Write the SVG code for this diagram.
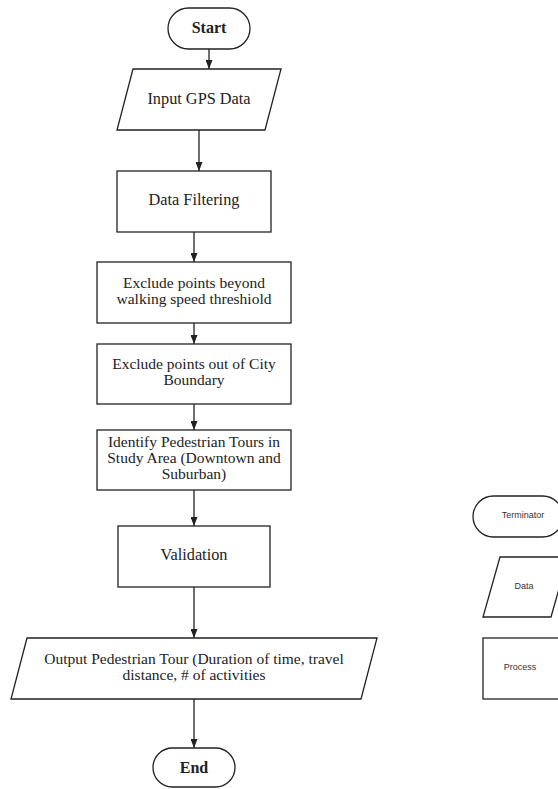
<svg xmlns="http://www.w3.org/2000/svg" width="558" height="789" viewBox="0 0 558 789">
<style>
.shape{fill:#fff;stroke:#222;stroke-width:1.3}
.t{font-family:"Liberation Serif",serif;font-size:15.5px;fill:#222;text-anchor:middle}
.s{font-size:16.3px}
.b{font-weight:bold;font-size:16px}
.lg{font-family:"Liberation Sans",Arial,sans-serif;font-size:9px;fill:#333;text-anchor:middle}
.conn{stroke:#222;stroke-width:1.3;fill:none;marker-end:url(#ah)}
</style>
<defs>
<marker id="ah" markerWidth="9" markerHeight="7" refX="9" refY="3.5" orient="auto" markerUnits="userSpaceOnUse" viewBox="0 0 9 7">
<path d="M0,0 L9,3.5 L0,7 Z" fill="#222"/>
</marker>
</defs>
<rect width="558" height="789" fill="#fff"/>
<g id="connectors">
<line class="conn" x1="209" y1="49" x2="209" y2="69"/>
<line class="conn" x1="199" y1="130" x2="199" y2="171"/>
<line class="conn" x1="194" y1="232" x2="194" y2="262"/>
<line class="conn" x1="194" y1="323" x2="194" y2="344"/>
<line class="conn" x1="194" y1="404" x2="194" y2="430"/>
<line class="conn" x1="194" y1="490" x2="194" y2="526"/>
<line class="conn" x1="194" y1="587" x2="194" y2="638"/>
<line class="conn" x1="194" y1="699" x2="194" y2="748"/>
</g>
<g id="start">
<rect class="shape" x="168" y="8" width="82" height="41" rx="20.5"/>
<text class="t b" x="209" y="33">Start</text>
</g>
<g id="input">
<polygon class="shape" points="133,69 281,69 265,130 117,130"/>
<text class="t s" x="199" y="104">Input GPS Data</text>
</g>
<g id="filtering">
<rect class="shape" x="117" y="171" width="154" height="61"/>
<text class="t s" x="194" y="205">Data Filtering</text>
</g>
<g id="exclude-speed">
<rect class="shape" x="97" y="262" width="194" height="61"/>
<text class="t" x="194" y="288">Exclude points beyond</text>
<text class="t" x="194" y="304">walking speed threshiold</text>
</g>
<g id="exclude-boundary">
<rect class="shape" x="97" y="344" width="194" height="60"/>
<text class="t" x="194" y="369">Exclude points out of City</text>
<text class="t" x="194" y="385">Boundary</text>
</g>
<g id="identify">
<rect class="shape" x="97" y="430" width="194" height="60"/>
<text class="t" x="194" y="447">Identify Pedestrian Tours in</text>
<text class="t" x="194" y="463">Study Area (Downtown and</text>
<text class="t" x="194" y="479">Suburban)</text>
</g>
<g id="validation">
<rect class="shape" x="118" y="526" width="152" height="61"/>
<text class="t s" x="194" y="560">Validation</text>
</g>
<g id="output">
<polygon class="shape" points="27,638 377,638 361,699 11,699"/>
<text class="t" x="194" y="664">Output Pedestrian Tour (Duration of time, travel</text>
<text class="t" x="194" y="680">distance, # of activities</text>
</g>
<g id="end">
<rect class="shape" x="153" y="748" width="82" height="39" rx="19.5"/>
<text class="t b" x="194" y="773">End</text>
</g>
<g id="legend-terminator">
<rect class="shape" x="473" y="496" width="90" height="41" rx="20.5"/>
<text class="lg" x="523" y="518">Terminator</text>
</g>
<g id="legend-data">
<polygon class="shape" points="500,557 568,557 551,617 483,617"/>
<text class="lg" x="524" y="589">Data</text>
</g>
<g id="legend-process">
<rect class="shape" x="483" y="638" width="82" height="61"/>
<text class="lg" x="520" y="670">Process</text>
</g>
</svg>
